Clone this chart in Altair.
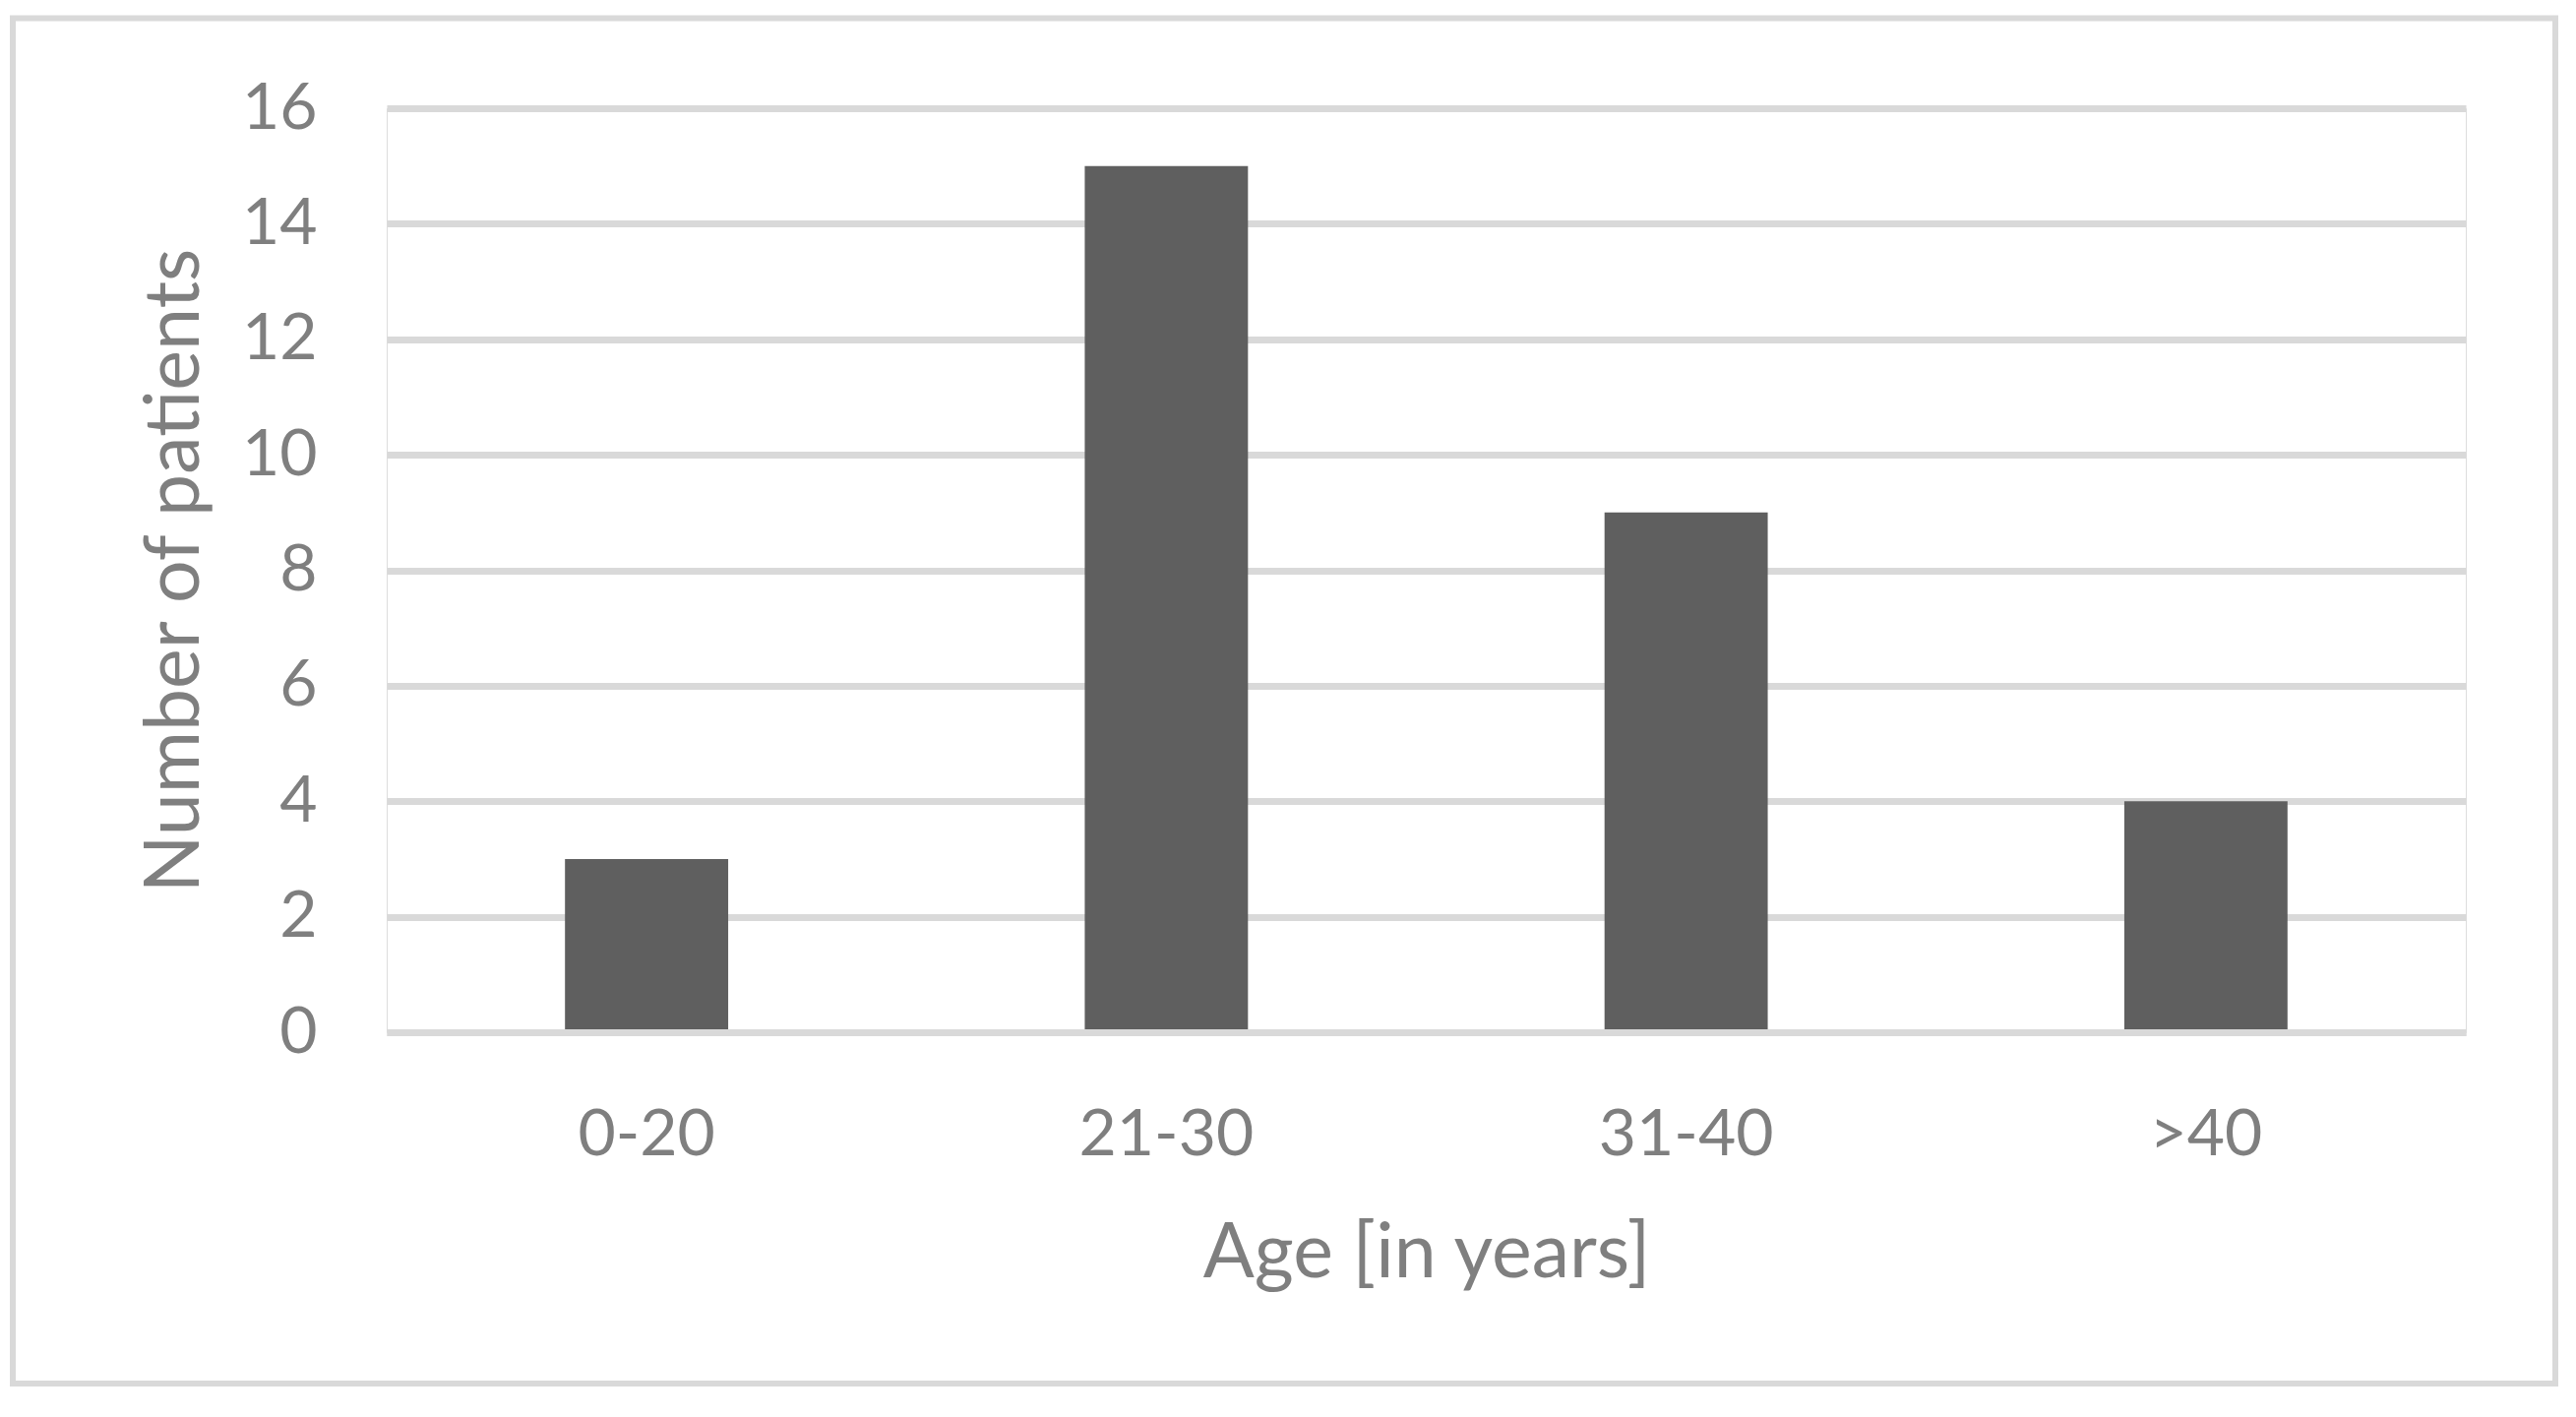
import altair as alt
import pandas as pd

categories = ["0-20", "21-30", "31-40", ">40"]
patients = [3, 15, 9, 4]
y_ticks = [0, 2, 4, 6, 8, 10, 12, 14, 16]

df = pd.DataFrame({"age": categories, "n": patients})

FONT = "Lato"
TXT = "#7f7f7f"
GRID = "#d9d9d9"

bars = alt.Chart(df).mark_bar(color="#5f5f5f").encode(
    x=alt.X(
        "age:N",
        sort=categories,
        scale=alt.Scale(paddingInner=0.686, paddingOuter=0.343),
        axis=alt.Axis(
            title="Age [in years]",
            labelAngle=0,
            labelFont=FONT,
            labelFontSize=66,
            labelColor=TXT,
            labelPadding=72,
            ticks=False,
            tickSize=0,
            domain=True,
            domainColor=GRID,
            domainWidth=7,
            grid=False,
            titleFont=FONT,
            titleFontSize=77,
            titleFontWeight="normal",
            titleColor=TXT,
            titleBaseline="alphabetic",
            titleAlign="center",
            titleX=1056.5,
            titleY=248,
            zindex=1,
        ),
    ),
    y=alt.Y(
        "n:Q",
        scale=alt.Scale(domain=[0, 16], nice=False),
        axis=alt.Axis(
            title="Number of patients",
            values=y_ticks,
            labelFont=FONT,
            labelFontSize=66,
            labelColor=TXT,
            labelPadding=71,
            ticks=False,
            tickSize=0,
            domain=False,
            grid=True,
            gridColor=GRID,
            gridWidth=7,
            titleFont=FONT,
            titleFontSize=77,
            titleFontWeight="normal",
            titleColor=TXT,
            titleBaseline="alphabetic",
            titleAlign="center",
            titleAngle=270,
            titleX=-192,
            titleY=469.5,
            zindex=0,
        ),
    ),
)

border = alt.Chart(alt.Data(values=[{"k": 1}])).mark_rect(
    fillOpacity=0, stroke=GRID, strokeWidth=6
).encode(
    x=alt.value(-380),
    x2=alt.value(2204),
    y=alt.value(-91.5),
    y2=alt.value(1296),
)

chart = alt.layer(border, bars).properties(
    width=2113,
    height=939,
    autosize=alt.AutoSizeParams(type="none"),
    padding={"left": 385, "top": 102, "right": 100, "bottom": 365},
).configure_view(stroke=None).configure(background="white")

chart.save("out.html", embed_options={"renderer": "svg", "actions": False})
